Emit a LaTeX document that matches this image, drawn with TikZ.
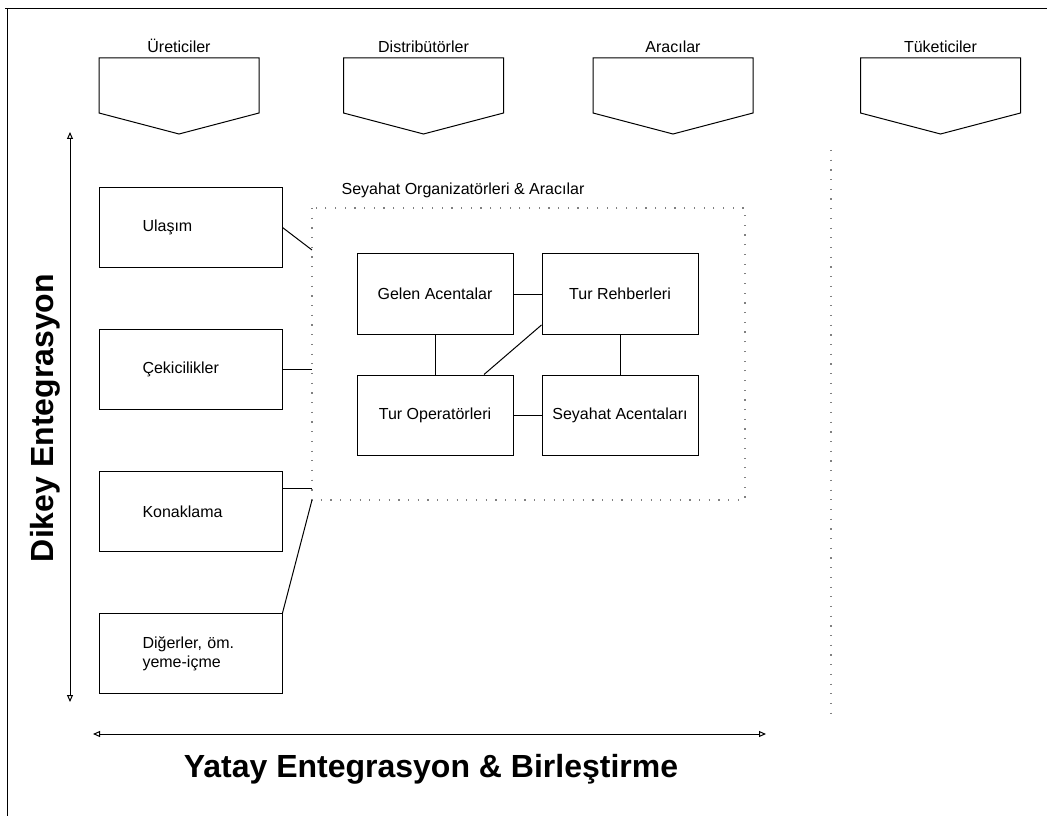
\documentclass[tikz,border=0pt]{standalone}
\usepackage{fontspec}
\setmainfont{Liberation Sans}
\usetikzlibrary{positioning,arrows.meta}

\begin{document}
\begin{tikzpicture}[
x=1pt,y=-1pt,
line width=1pt,
node distance=61pt,
every node/.style={font=\fontsize{16}{19}\selectfont},
box/.style={rectangle,draw,minimum width=156pt,minimum height=80pt,align=center,inner sep=1pt},
sidebox/.style={rectangle,draw,minimum width=183pt,minimum height=80pt,text width=96pt,align=left,inner xsep=43.5pt,inner ysep=1pt},
chan/.style={anchor=base},
axislabel/.style={anchor=base,font=\fontsize{32}{38}\selectfont\bfseries},
axis/.style={{Triangle[open,length=7pt,width=6pt]}-{Triangle[open,length=7pt,width=6pt]}},
dotline/.style={gray,line width=1.2pt,dash pattern=on 1.2pt off 8.5pt}
]
\useasboundingbox (0,0) rectangle (1047,821);
\draw (5,9) -- (1047,9);
\draw (7,9) -- (7,816);
\foreach \cx/\nm/\txt in {179/ure/Üreticiler,423.5/dis/Distribütörler,673/ara/Aracılar,940.5/tuk/Tüketiciler}{
  \node[chan] (\nm) at (\cx,53) {\txt};
  \draw (\cx-80,58) -- (\cx+80,58) -- (\cx+80,113) -- (\cx,134) -- (\cx-80,113) -- cycle;
}
\coordinate (vtop) at (70,132);
\coordinate (vbot) at (70,702);
\coordinate (hleft) at (93,734);
\coordinate (hright) at (766,734);
\draw[axis] (vtop) -- (vbot);
\draw[axis] (hleft) -- (hright);
\node[axislabel,rotate=90] (dikey) at (53,418) {Dikey Entegrasyon};
\node[axislabel] (yatay) at (431,777) {Yatay Entegrasyon \& Birleştirme};
\coordinate (orgNW) at (312,208);
\coordinate (orgSE) at (745,500);
\draw[dotline] (orgNW) rectangle (orgSE);
\coordinate (sepT) at (831,150);
\coordinate (sepB) at (831,717);
\draw[dotline] (sepT) -- (sepB);
\node (org) at (463,190) {Seyahat Organizatörleri \& Aracılar};
\node[sidebox] (ula) at (190.5,227.5) {Ulaşım};
\node[sidebox,below=of ula] (cek) {Çekicilikler};
\node[sidebox,below=of cek] (kon) {Konaklama};
\node[sidebox,below=of kon] (dig) {Diğerler, öm.\\yeme-içme};
\coordinate (ulaIn) at (312,250);
\coordinate (cekIn) at (312,369.5);
\coordinate (konIn) at (312,488);
\coordinate (digIn) at (312,500);
\draw (ula.east) -- (ulaIn);
\draw (cek.east) -- (cekIn);
\draw ([yshift=23.5pt]kon.east) -- (konIn);
\draw (dig.north east) -- (digIn);
\node[box] (gelen) at (435,294) {Gelen Acentalar};
\node[box,right=28pt of gelen] (rehber) {Tur Rehberleri};
\node[box,below=40pt of gelen] (turop) {Tur Operatörleri};
\node[box,right=28pt of turop] (seyahat) {Seyahat Acentaları};
\draw (gelen) -- (rehber);
\draw (gelen) -- (turop);
\draw (rehber) -- (seyahat);
\draw (turop) -- (seyahat);
\draw ([yshift=-31pt]rehber.west) -- ([xshift=49pt]turop.north);
\end{tikzpicture}
\end{document}
